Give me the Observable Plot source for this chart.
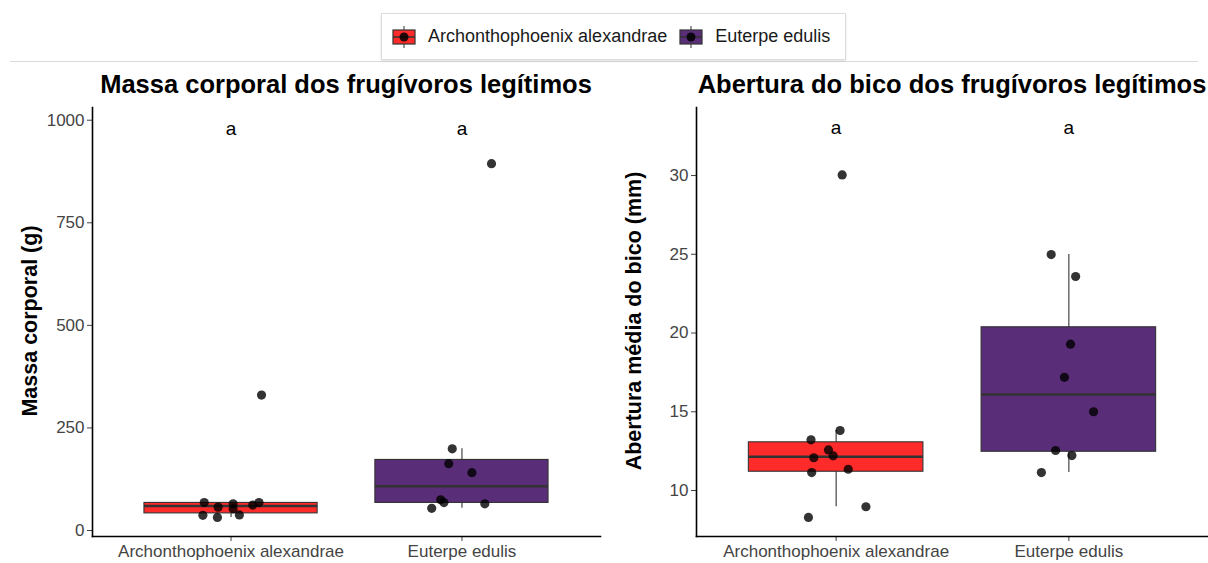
<!DOCTYPE html>
<html>
<head>
<meta charset="utf-8">
<script src="https://cdn.jsdelivr.net/npm/d3@7"></script>
<script src="https://cdn.jsdelivr.net/npm/@observablehq/plot@0.6"></script>
<style>
  body { margin: 0; background: #fff; font-family: "Liberation Sans", Arial, sans-serif; }
  #root { position: relative; width: 1208px; height: 563px; overflow: hidden; }
  .abs { position: absolute; }
  .title { font-weight: bold; font-size: 25.5px; color: #000; white-space: nowrap; transform: translate(-50%, -50%); }
  .ylab { font-weight: bold; font-size: 21.5px; color: #000; white-space: nowrap; transform: translate(-50%, -50%) rotate(-90deg); }
  #legend { width: 465px; height: 47px; border: 1px solid #dcdcdc; box-shadow: 0 1px 2px rgba(0,0,0,0.12); display: flex; align-items: center; box-sizing: border-box; padding-left: 10px; font-size: 18px; color: #1a1a1a; }
  .key { display: inline-flex; align-items: center; margin-right: 12px; }
  .key svg { margin-right: 12px; }
</style>
</head>
<body>
<div id="root"></div>
<script>
// ---------- data ----------
const categories = ["Archonthophoenix alexandrae", "Euterpe edulis"];
const colors = ["#FF2A2A", "#5A2D78"];
const letters = ["a", "a"];

// Body mass (g)
const massArch = [330, 68, 57, 65, 53, 62, 68, 37, 32, 38];
const massArchJitter = [0.132, -0.116, -0.056, 0.009, 0.009, 0.094, 0.121, -0.122, -0.059, 0.036];
const massEut = [894, 199, 163, 141, 75, 68, 65, 54];
const massEutJitter = [0.128, -0.042, -0.057, 0.043, -0.092, -0.078, 0.099, -0.131];
const massTicks = [0, 250, 500, 750, 1000];
const massLetterY = 980;

// Beak gape (mm)
const beakArch = [30.04, 13.81, 13.22, 12.58, 12.08, 12.20, 11.35, 11.14, 8.97, 8.29];
const beakArchJitter = [0.026, 0.017, -0.108, -0.033, -0.096, -0.013, 0.052, -0.105, 0.128, -0.119];
const beakEut = [24.98, 23.59, 19.29, 17.19, 15.0, 12.54, 12.22, 11.14];
const beakEutJitter = [-0.076, 0.029, 0.007, -0.019, 0.106, -0.057, 0.013, -0.118];
const beakTicks = [10, 15, 20, 25, 30];
const beakLetterY = 33;

// ---------- helpers ----------
function boxStats(values, i) {
  const s = values.slice().sort(d3.ascending);
  const q1 = d3.quantile(s, 0.25), med = d3.quantile(s, 0.5), q3 = d3.quantile(s, 0.75);
  const iqr = q3 - q1;
  const lo = d3.min(s.filter(v => v >= q1 - 1.5 * iqr));
  const hi = d3.max(s.filter(v => v <= q3 + 1.5 * iqr));
  return {pos: i + 1, cat: categories[i], q1, med, q3, lo, hi};
}
function points(values, jitter, i) {
  return values.map((v, k) => ({pos: i + 1 + jitter[k], v}));
}

function panel({groups, jitters, ticks, yDomain, letterY, width, marginRight}) {
  const stats = groups.map((g, i) => boxStats(g, i));
  const pts = groups.flatMap((g, i) => points(g, jitters[i], i));
  const lettersData = letters.map((l, i) => ({pos: i + 1, l}));
  return Plot.plot({
    width, height: 463,
    marginLeft: 92, marginRight, marginTop: 7, marginBottom: 27,
    style: {fontFamily: "Liberation Sans, Arial, sans-serif", background: "transparent"},
    x: {type: "linear", domain: [0.4, 2.6]},
    y: {domain: yDomain},
    color: {domain: categories, range: colors},
    marks: [
      Plot.ruleX(stats, {x: "pos", y1: "lo", y2: "hi", stroke: "#333", strokeWidth: 1.1}),
      Plot.rect(stats, {x1: d => d.pos - 0.375, x2: d => d.pos + 0.375, y1: "q1", y2: "q3", fill: "cat", stroke: "#333", strokeWidth: 1.1}),
      Plot.ruleY(stats, {y: "med", x1: d => d.pos - 0.375, x2: d => d.pos + 0.375, stroke: "#333", strokeWidth: 2.5}),
      Plot.dot(pts, {x: "pos", y: "v", r: 4.6, fill: "#000", fillOpacity: 0.8, stroke: "none"}),
      Plot.text(lettersData, {x: "pos", y: () => letterY, text: "l", fontSize: 19, fill: "#000"}),
      Plot.axisX({ticks: [1, 2], tickFormat: d => categories[d - 1], tickSize: 5, tickPadding: 3, fontSize: 17, color: "#444", label: null}),
      Plot.axisY({ticks, tickFormat: "d", tickSize: 5, tickPadding: 3, fontSize: 17, color: "#444", label: null}),
      Plot.frame({anchor: "left", stroke: "#000", strokeWidth: 1.6}),
      Plot.frame({anchor: "bottom", stroke: "#000", strokeWidth: 1.6})
    ]
  });
}

const root = document.getElementById("root");
function place(el, left, top) {
  el.classList.add("abs");
  el.style.left = left + "px";
  el.style.top = top + "px";
  root.appendChild(el);
  return el;
}

const left = panel({groups: [massArch, massEut], jitters: [massArchJitter, massEutJitter], ticks: massTicks,
  yDomain: [-14.6, 1031], letterY: massLetterY, width: 604, marginRight: 4});
place(left, 0, 100);

const right = panel({groups: [beakArch, beakEut], jitters: [beakArchJitter, beakEutJitter], ticks: beakTicks,
  yDomain: [7.08, 34.32], letterY: beakLetterY, width: 604, marginRight: 0});
place(right, 604, 100);

function textDiv(cls, txt, x, y) {
  const d = document.createElement("div");
  d.className = cls;
  d.textContent = txt;
  return place(d, x, y);
}
textDiv("title", "Massa corporal dos frugívoros legítimos", 346, 84);
textDiv("title", "Abertura do bico dos frugívoros legítimos", 952, 84);
textDiv("ylab", "Massa corporal (g)", 30, 321);
textDiv("ylab", "Abertura média do bico (mm)", 634, 321);

// separator line
const sep = document.createElement("div");
sep.style.cssText = "width:1188px;height:1px;background:#dadada;";
place(sep, 10, 61);

// legend
const legend = document.createElement("div");
legend.id = "legend";
categories.forEach((c, i) => {
  const k = document.createElement("span");
  k.className = "key";
  k.innerHTML = `<svg width="24" height="24" viewBox="0 0 24 24">
    <line x1="12" y1="1" x2="12" y2="23" stroke="#333" stroke-width="1"/>
    <rect x="1" y="5" width="22" height="14" fill="${colors[i]}" stroke="#333" stroke-width="1.2"/>
    <line x1="1" y1="12" x2="23" y2="12" stroke="#333" stroke-width="1.5"/>
    <circle cx="12" cy="12" r="4.5" fill="#000" fill-opacity="0.85"/>
  </svg><span>${c}</span>`;
  legend.appendChild(k);
});
place(legend, 381, 13);
</script>
</body>
</html>
